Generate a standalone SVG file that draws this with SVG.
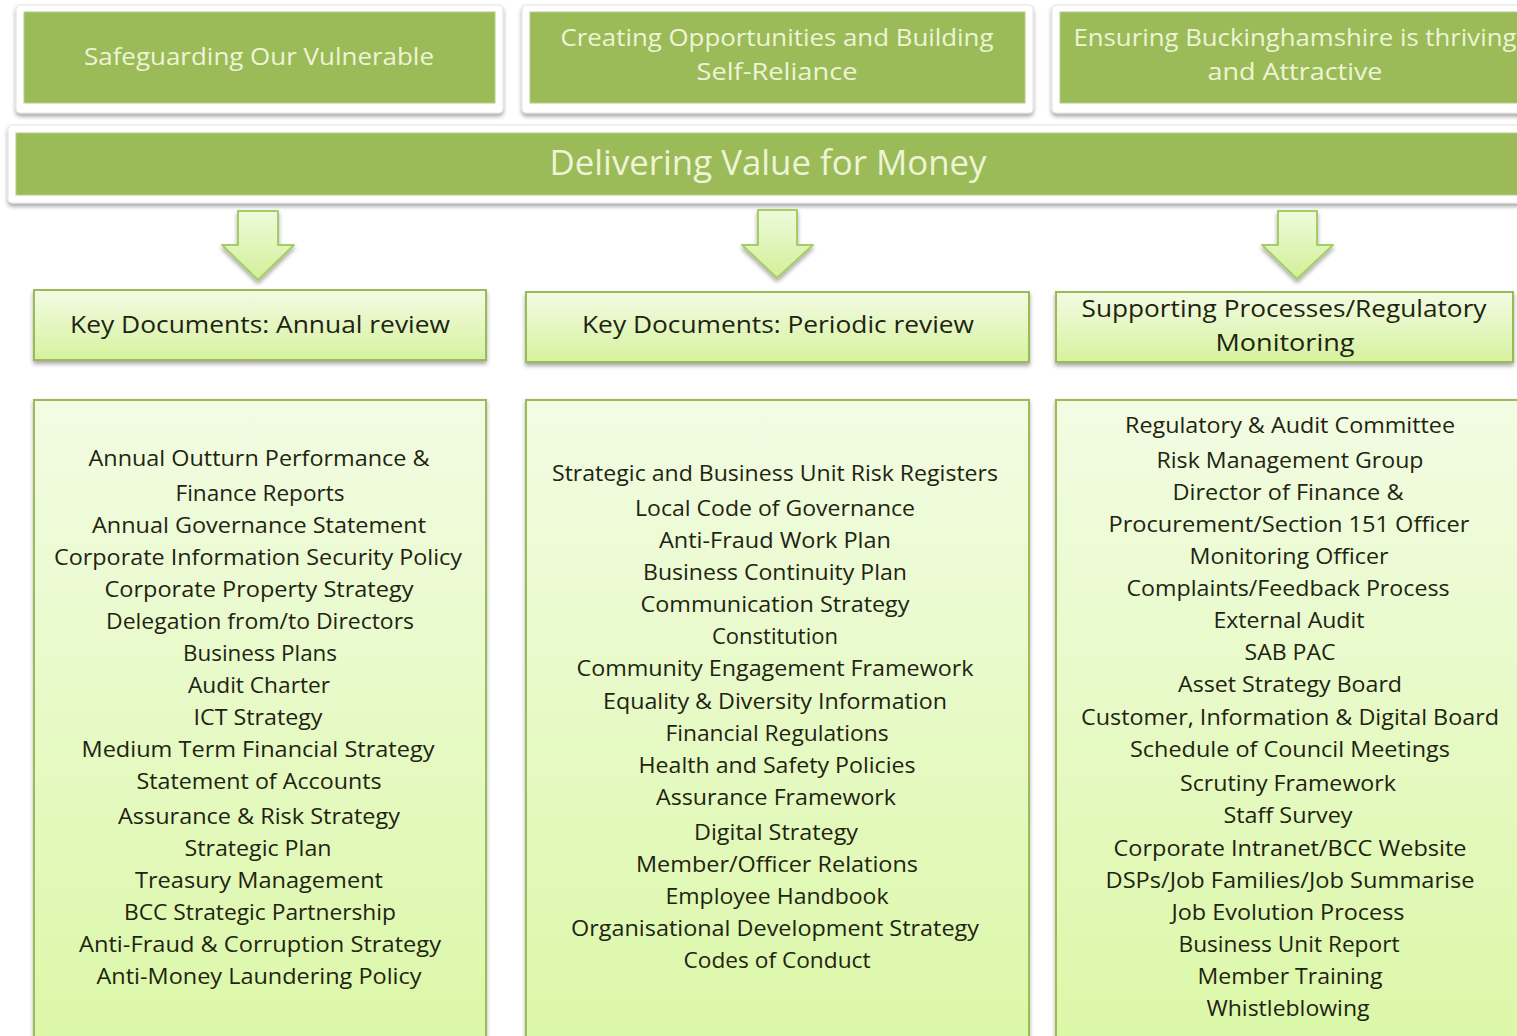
<svg xmlns="http://www.w3.org/2000/svg" width="1517" height="1036" viewBox="0 0 1517 1036">
  <style>
    .frame { fill: #ffffff; stroke: #e2e2e2; stroke-width: 1; filter: url(#shadow); }
    .band { fill: #9bbb59; stroke: #b4cd84; stroke-width: 1; }
    .theme { font-family: "Open Sans", "Liberation Sans", sans-serif; font-size: 23px; fill: #eef4d6; text-anchor: middle; }
    .banner { font-family: "Open Sans", "Liberation Sans", sans-serif; font-size: 34px; fill: #eef4d6; text-anchor: middle; }
    .head { fill: url(#headFill); stroke: #9bbb59; stroke-width: 2; filter: url(#shadow); }
    .body { fill: url(#bodyFill); stroke: #9bbb59; stroke-width: 2; filter: url(#sideShadow); }
    .htext { font-family: "Open Sans", "Liberation Sans", sans-serif; font-size: 24px; fill: #1e2412; text-anchor: middle; }
    .item { font-family: "Open Sans", "Liberation Sans", sans-serif; font-size: 21px; fill: #1e2412; text-anchor: middle; }
    .arrow { fill: url(#arrowFill); stroke: #a6cc66; stroke-width: 2; stroke-linejoin: round; filter: url(#shadow); }
  </style>
  <defs>
    <filter id="shadow" x="-5%" y="-20%" width="110%" height="150%">
      <feGaussianBlur in="SourceAlpha" stdDeviation="2"/>
      <feOffset dx="0" dy="3" result="b"/>
      <feComponentTransfer><feFuncA type="linear" slope="0.35"/></feComponentTransfer>
      <feMerge><feMergeNode/><feMergeNode in="SourceGraphic"/></feMerge>
    </filter>
    <filter id="sideShadow" x="-5%" y="-5%" width="110%" height="110%">
      <feGaussianBlur in="SourceAlpha" stdDeviation="2"/>
      <feOffset dx="0" dy="2" result="b"/>
      <feComponentTransfer><feFuncA type="linear" slope="0.3"/></feComponentTransfer>
      <feMerge><feMergeNode/><feMergeNode in="SourceGraphic"/></feMerge>
    </filter>
    <linearGradient id="headFill" x1="0" y1="0" x2="0" y2="1">
      <stop offset="0" stop-color="#f3fbe4"/>
      <stop offset="1" stop-color="#d6f29e"/>
    </linearGradient>
    <linearGradient id="bodyFill" x1="0" y1="0" x2="0" y2="1">
      <stop offset="0" stop-color="#f2fce3"/>
      <stop offset="1" stop-color="#daf7a4"/>
    </linearGradient>
    <linearGradient id="arrowFill" x1="0" y1="0" x2="0" y2="1">
      <stop offset="0" stop-color="#eefadb"/>
      <stop offset="1" stop-color="#d2f098"/>
    </linearGradient>
  </defs>

  <rect width="1517" height="1036" fill="#ffffff"/>

  <!-- strategic priorities -->
  <g id="priority-safeguarding">
    <rect class="frame" x="16" y="5" width="487" height="108" rx="4"/>
    <rect class="band" x="24" y="12" width="471" height="91"/>
    <text class="theme" x="259" y="65" textLength="350" lengthAdjust="spacingAndGlyphs">Safeguarding Our Vulnerable</text>
  </g>
  <g id="priority-opportunities">
    <rect class="frame" x="522" y="5" width="511" height="108" rx="4"/>
    <rect class="band" x="530" y="12" width="495" height="91"/>
    <text class="theme" x="777" y="46" textLength="433" lengthAdjust="spacingAndGlyphs">Creating Opportunities and Building</text>
    <text class="theme" x="777" y="80" textLength="161" lengthAdjust="spacingAndGlyphs">Self-Reliance</text>
  </g>
  <g id="priority-thriving">
    <rect class="frame" x="1052" y="5" width="500" height="108" rx="4"/>
    <rect class="band" x="1060" y="12" width="490" height="91"/>
    <text class="theme" x="1295" y="46" textLength="443" lengthAdjust="spacingAndGlyphs">Ensuring Buckinghamshire is thriving</text>
    <text class="theme" x="1295" y="80" textLength="175" lengthAdjust="spacingAndGlyphs">and Attractive</text>
  </g>

  <!-- value for money banner -->
  <g id="value-for-money">
    <rect class="frame" x="8" y="125" width="1540" height="78" rx="4"/>
    <rect class="band" x="16" y="133" width="1530" height="62"/>
    <text class="banner" x="768" y="175" textLength="437" lengthAdjust="spacingAndGlyphs">Delivering Value for Money</text>
  </g>

  <!-- connectors -->
  <g id="connectors">
    <path class="arrow" d="M238,211 H278 V245 H294 L258,280 L222,245 H238 Z"/>
    <path class="arrow" d="M758,210 H797 V245 H813 L777,278 L742,245 H758 Z"/>
    <path class="arrow" d="M1278,211 H1317 V245 H1333 L1297,279 L1262,245 H1278 Z"/>
  </g>

  <!-- column headings -->
  <g id="head-annual">
    <rect class="head" x="34" y="290" width="452" height="70"/>
    <text class="htext" x="260" y="333" textLength="380" lengthAdjust="spacingAndGlyphs">Key Documents: Annual review</text>
  </g>
  <g id="head-periodic">
    <rect class="head" x="526" y="292" width="503" height="70"/>
    <text class="htext" x="778" y="333" textLength="392" lengthAdjust="spacingAndGlyphs">Key Documents: Periodic review</text>
  </g>
  <g id="head-supporting">
    <rect class="head" x="1056" y="292" width="457" height="70"/>
    <text class="htext" x="1284" y="317" textLength="405" lengthAdjust="spacingAndGlyphs">Supporting Processes/Regulatory</text>
    <text class="htext" x="1285" y="351" textLength="139" lengthAdjust="spacingAndGlyphs">Monitoring</text>
  </g>

  <!-- annual review documents -->
  <g id="list-annual">
    <rect class="body" x="34" y="400" width="452" height="680"/>
    <text class="item" x="259" y="466" textLength="341" lengthAdjust="spacingAndGlyphs">Annual Outturn Performance &amp;</text>
    <text class="item" x="260" y="501" textLength="169" lengthAdjust="spacingAndGlyphs">Finance Reports</text>
    <text class="item" x="259" y="533" textLength="334" lengthAdjust="spacingAndGlyphs">Annual Governance Statement</text>
    <text class="item" x="258" y="565" textLength="408" lengthAdjust="spacingAndGlyphs">Corporate Information Security Policy</text>
    <text class="item" x="259" y="597" textLength="309" lengthAdjust="spacingAndGlyphs">Corporate Property Strategy</text>
    <text class="item" x="260" y="629" textLength="308" lengthAdjust="spacingAndGlyphs">Delegation from/to Directors</text>
    <text class="item" x="260" y="661" textLength="154" lengthAdjust="spacingAndGlyphs">Business Plans</text>
    <text class="item" x="259" y="693" textLength="142" lengthAdjust="spacingAndGlyphs">Audit Charter</text>
    <text class="item" x="258" y="725" textLength="129" lengthAdjust="spacingAndGlyphs">ICT Strategy</text>
    <text class="item" x="258" y="757" textLength="353" lengthAdjust="spacingAndGlyphs">Medium Term Financial Strategy</text>
    <text class="item" x="259" y="789" textLength="245" lengthAdjust="spacingAndGlyphs">Statement of Accounts</text>
    <text class="item" x="259" y="824" textLength="282" lengthAdjust="spacingAndGlyphs">Assurance &amp; Risk Strategy</text>
    <text class="item" x="258" y="856" textLength="147" lengthAdjust="spacingAndGlyphs">Strategic Plan</text>
    <text class="item" x="259" y="888" textLength="248" lengthAdjust="spacingAndGlyphs">Treasury Management</text>
    <text class="item" x="260" y="920" textLength="272" lengthAdjust="spacingAndGlyphs">BCC Strategic Partnership</text>
    <text class="item" x="260" y="952" textLength="362" lengthAdjust="spacingAndGlyphs">Anti-Fraud &amp; Corruption Strategy</text>
    <text class="item" x="259" y="984" textLength="325" lengthAdjust="spacingAndGlyphs">Anti-Money Laundering Policy</text>
  </g>

  <!-- periodic review documents -->
  <g id="list-periodic">
    <rect class="body" x="526" y="400" width="503" height="680"/>
    <text class="item" x="775" y="481" textLength="446" lengthAdjust="spacingAndGlyphs">Strategic and Business Unit Risk Registers</text>
    <text class="item" x="775" y="516" textLength="280" lengthAdjust="spacingAndGlyphs">Local Code of Governance</text>
    <text class="item" x="775" y="548" textLength="232" lengthAdjust="spacingAndGlyphs">Anti-Fraud Work Plan</text>
    <text class="item" x="775" y="580" textLength="264" lengthAdjust="spacingAndGlyphs">Business Continuity Plan</text>
    <text class="item" x="775" y="612" textLength="269" lengthAdjust="spacingAndGlyphs">Communication Strategy</text>
    <text class="item" x="775" y="644" textLength="126" lengthAdjust="spacingAndGlyphs">Constitution</text>
    <text class="item" x="775" y="676" textLength="397" lengthAdjust="spacingAndGlyphs">Community Engagement Framework</text>
    <text class="item" x="775" y="709" textLength="344" lengthAdjust="spacingAndGlyphs">Equality &amp; Diversity Information</text>
    <text class="item" x="777" y="741" textLength="223" lengthAdjust="spacingAndGlyphs">Financial Regulations</text>
    <text class="item" x="777" y="773" textLength="277" lengthAdjust="spacingAndGlyphs">Health and Safety Policies</text>
    <text class="item" x="776" y="805" textLength="240" lengthAdjust="spacingAndGlyphs">Assurance Framework</text>
    <text class="item" x="776" y="840" textLength="164" lengthAdjust="spacingAndGlyphs">Digital Strategy</text>
    <text class="item" x="777" y="872" textLength="282" lengthAdjust="spacingAndGlyphs">Member/Officer Relations</text>
    <text class="item" x="777" y="904" textLength="223" lengthAdjust="spacingAndGlyphs">Employee Handbook</text>
    <text class="item" x="775" y="936" textLength="408" lengthAdjust="spacingAndGlyphs">Organisational Development Strategy</text>
    <text class="item" x="777" y="968" textLength="187" lengthAdjust="spacingAndGlyphs">Codes of Conduct</text>
  </g>

  <!-- supporting processes and monitoring -->
  <g id="list-supporting">
    <rect class="body" x="1056" y="400" width="480" height="680"/>
    <text class="item" x="1290" y="433" textLength="330" lengthAdjust="spacingAndGlyphs">Regulatory &amp; Audit Committee</text>
    <text class="item" x="1290" y="468" textLength="267" lengthAdjust="spacingAndGlyphs">Risk Management Group</text>
    <text class="item" x="1288" y="500" textLength="231" lengthAdjust="spacingAndGlyphs">Director of Finance &amp;</text>
    <text class="item" x="1289" y="532" textLength="361" lengthAdjust="spacingAndGlyphs">Procurement/Section 151 Officer</text>
    <text class="item" x="1289" y="564" textLength="199" lengthAdjust="spacingAndGlyphs">Monitoring Officer</text>
    <text class="item" x="1288" y="596" textLength="323" lengthAdjust="spacingAndGlyphs">Complaints/Feedback Process</text>
    <text class="item" x="1289" y="628" textLength="151" lengthAdjust="spacingAndGlyphs">External Audit</text>
    <text class="item" x="1290" y="660" textLength="91" lengthAdjust="spacingAndGlyphs">SAB PAC</text>
    <text class="item" x="1290" y="692" textLength="224" lengthAdjust="spacingAndGlyphs">Asset Strategy Board</text>
    <text class="item" x="1290" y="725" textLength="418" lengthAdjust="spacingAndGlyphs">Customer, Information &amp; Digital Board</text>
    <text class="item" x="1290" y="757" textLength="320" lengthAdjust="spacingAndGlyphs">Schedule of Council Meetings</text>
    <text class="item" x="1288" y="791" textLength="216" lengthAdjust="spacingAndGlyphs">Scrutiny Framework</text>
    <text class="item" x="1288" y="823" textLength="129" lengthAdjust="spacingAndGlyphs">Staff Survey</text>
    <text class="item" x="1290" y="856" textLength="353" lengthAdjust="spacingAndGlyphs">Corporate Intranet/BCC Website</text>
    <text class="item" x="1290" y="888" textLength="369" lengthAdjust="spacingAndGlyphs">DSPs/Job Families/Job Summarise</text>
    <text class="item" x="1288" y="920" textLength="233" lengthAdjust="spacingAndGlyphs">Job Evolution Process</text>
    <text class="item" x="1289" y="952" textLength="221" lengthAdjust="spacingAndGlyphs">Business Unit Report</text>
    <text class="item" x="1290" y="984" textLength="185" lengthAdjust="spacingAndGlyphs">Member Training</text>
    <text class="item" x="1288" y="1016" textLength="163" lengthAdjust="spacingAndGlyphs">Whistleblowing</text>
  </g>
</svg>
